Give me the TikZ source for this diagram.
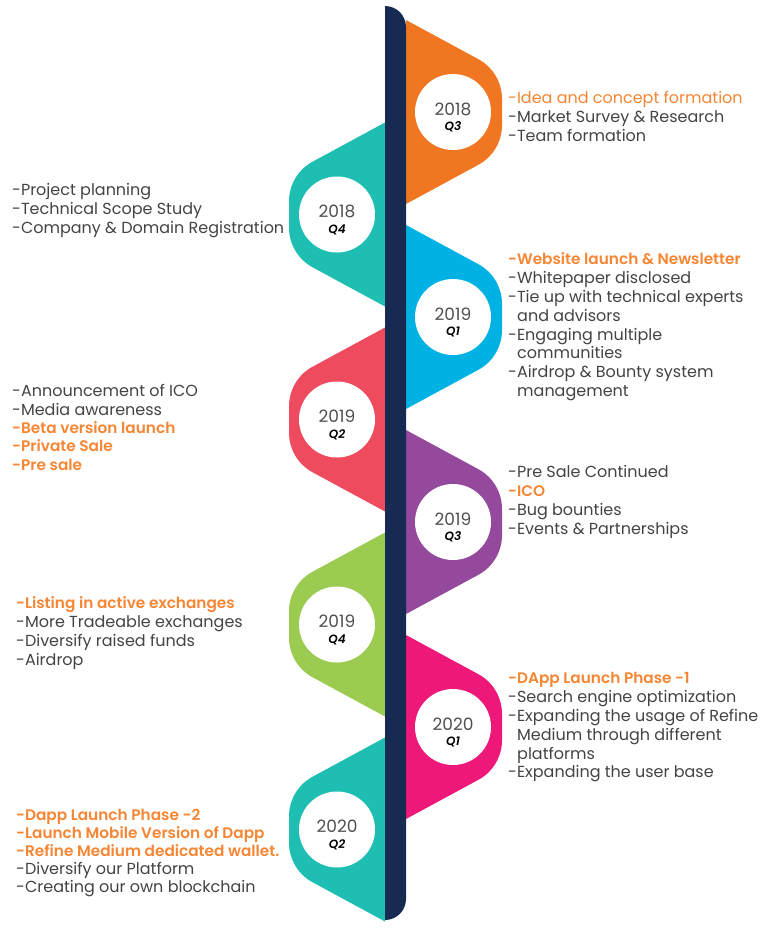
\documentclass[tikz,border=0pt]{standalone}
\usepackage{fontspec}
\setmainfont{Poppins}[BoldFont={Poppins SemiBold},BoldItalicFont={Poppins SemiBold Italic}]
\definecolor{navy}{RGB}{23,43,82}
\definecolor{corange}{RGB}{241,118,34}
\definecolor{cteal}{RGB}{30,190,178}
\definecolor{cblue}{RGB}{0,178,227}
\definecolor{cred}{RGB}{238,75,94}
\definecolor{cpurple}{RGB}{148,73,157}
\definecolor{cgreen}{RGB}{155,203,80}
\definecolor{cpink}{RGB}{237,24,121}
\definecolor{txtgray}{RGB}{68,68,68}
\definecolor{txtorange}{RGB}{247,134,52}
\definecolor{yeargray}{RGB}{80,80,80}
\newcommand\hl[1]{{\color{txtorange}#1}}
\newcommand\hb[1]{{\color{txtorange}\bfseries\fontsize{15.3}{18.8}\selectfont #1}}
\newcommand\ind{\hspace*{9pt}}
\newcommand\rwing[2]{\fill[#2] (406,{#1-92}) -- (478.4,{#1-52.8}) arc[start angle=-61.6,end angle=0,radius=45] -- (502,{#1+13.2}) arc[start angle=0,end angle=61.6,radius=45] -- (406,{#1+92}) -- cycle;}
\newcommand\lwing[2]{\fill[#2] (385,{#1-92}) -- (312.6,{#1-52.8}) arc[start angle=-118.4,end angle=-180,radius=45] -- (289,{#1+13.2}) arc[start angle=180,end angle=118.4,radius=45] -- (385,{#1+92}) -- cycle;}
\begin{document}
\begin{tikzpicture}[x=1pt,y=-1pt,
  disc/.style={circle,fill=white,minimum size=76pt,inner sep=0pt},
  yr/.style={font=\fontsize{17}{20}\selectfont,text=yeargray,inner sep=0pt},
  qt/.style={font=\fontsize{12}{14}\selectfont\bfseries\itshape,text=black,inner sep=0pt},
  txt/.style={font=\fontsize{16}{18.8}\selectfont,align=left,inner sep=0pt,text=txtgray,anchor=north west},
  txtb/.style={txt,font=\fontsize{16}{18.3}\selectfont},
  txtc/.style={txt,font=\fontsize{16}{18}\selectfont}]
\useasboundingbox (0,0) rectangle (768,932);
\fill[white] (0,0) rectangle (768,932);
% wings
\rwing{112}{corange}
\lwing{214.5}{cteal}
\rwing{317}{cblue}
\lwing{419.5}{cred}
\rwing{522}{cpurple}
\lwing{624.5}{cgreen}
\rwing{727}{cpink}
\lwing{829.5}{cteal}
% central bar
\fill[navy] (385,6) -- (385,920) arc[start angle=90,end angle=0,radius=21] -- (406,27) arc[start angle=0,end angle=-90,radius=21] -- cycle;
% discs
\node[disc] (d1) at (453,112) {};
\node[disc] (d2) at (337,214.5) {};
\node[disc] (d3) at (453,317) {};
\node[disc] (d4) at (337,419.5) {};
\node[disc] (d5) at (453,522) {};
\node[disc] (d6) at (337,624.5) {};
\node[disc] (d7) at (453,727) {};
\node[disc] (d8) at (337,829.5) {};
\foreach \n/\x/\y/\yy/\q in {1/453/112/2018/Q3, 2/337/214.5/2018/Q4, 3/453/317/2019/Q1, 4/337/419.5/2019/Q2, 5/453/522/2019/Q3, 6/337/624.5/2019/Q4, 7/453/727/2020/Q1, 8/337/829.5/2020/Q2}{
  \node[yr] (y\n) at (\x,{\y-3}) {\yy};
  \node[qt] (q\n) at (\x,{\y+15}) {\q};
}
% texts
\node[txt] (tA) at (508,90.5) {\strut\hl{-Idea and concept formation}\\\strut -Market Survey \& Research\\\strut -Team formation};
\node[txt] (tB) at (12,182.5) {\strut -Project planning\\\strut -Technical Scope Study\\\strut -Company \& Domain Registration};
\node[txt] (tC) at (508,251.5) {\strut\hb{-Website launch \& Newsletter}\\\strut -Whitepaper disclosed\\\strut -Tie up with technical experts\\\strut\ind and advisors\\\strut -Engaging multiple\\\strut\ind communities\\\strut -Airdrop \& Bounty system\\\strut\ind management};
\node[txtb] (tD) at (12,383.9) {\strut -Announcement of ICO\\\strut -Media awareness\\\strut\hb{-Beta version launch}\\\strut\hb{-Private Sale}\\\strut\hb{-Pre sale}};
\node[txt] (tE) at (508,464.5) {\strut -Pre Sale Continued\\\strut\hb{-ICO}\\\strut -Bug bounties\\\strut -Events \& Partnerships};
\node[txt] (tF) at (16,595.5) {\strut\hb{-Listing in active exchanges}\\\strut -More Tradeable exchanges\\\strut -Diversify raised funds\\\strut -Airdrop};
\node[txt] (tG) at (508,670.5) {\strut\hb{-DApp Launch Phase -1}\\\strut -Search engine optimization\\\strut -Expanding the usage of Refine\\\strut\ind Medium through different\\\strut\ind platforms\\\strut -Expanding the user base};
\node[txtc] (tH) at (16,808.1) {\strut\hb{-Dapp Launch Phase -2}\\\strut\hb{-Launch Mobile Version of Dapp}\\\strut\hb{-Refine Medium dedicated wallet.}\\\strut -Diversify our Platform\\\strut -Creating our own blockchain};
\end{tikzpicture}
\end{document}
